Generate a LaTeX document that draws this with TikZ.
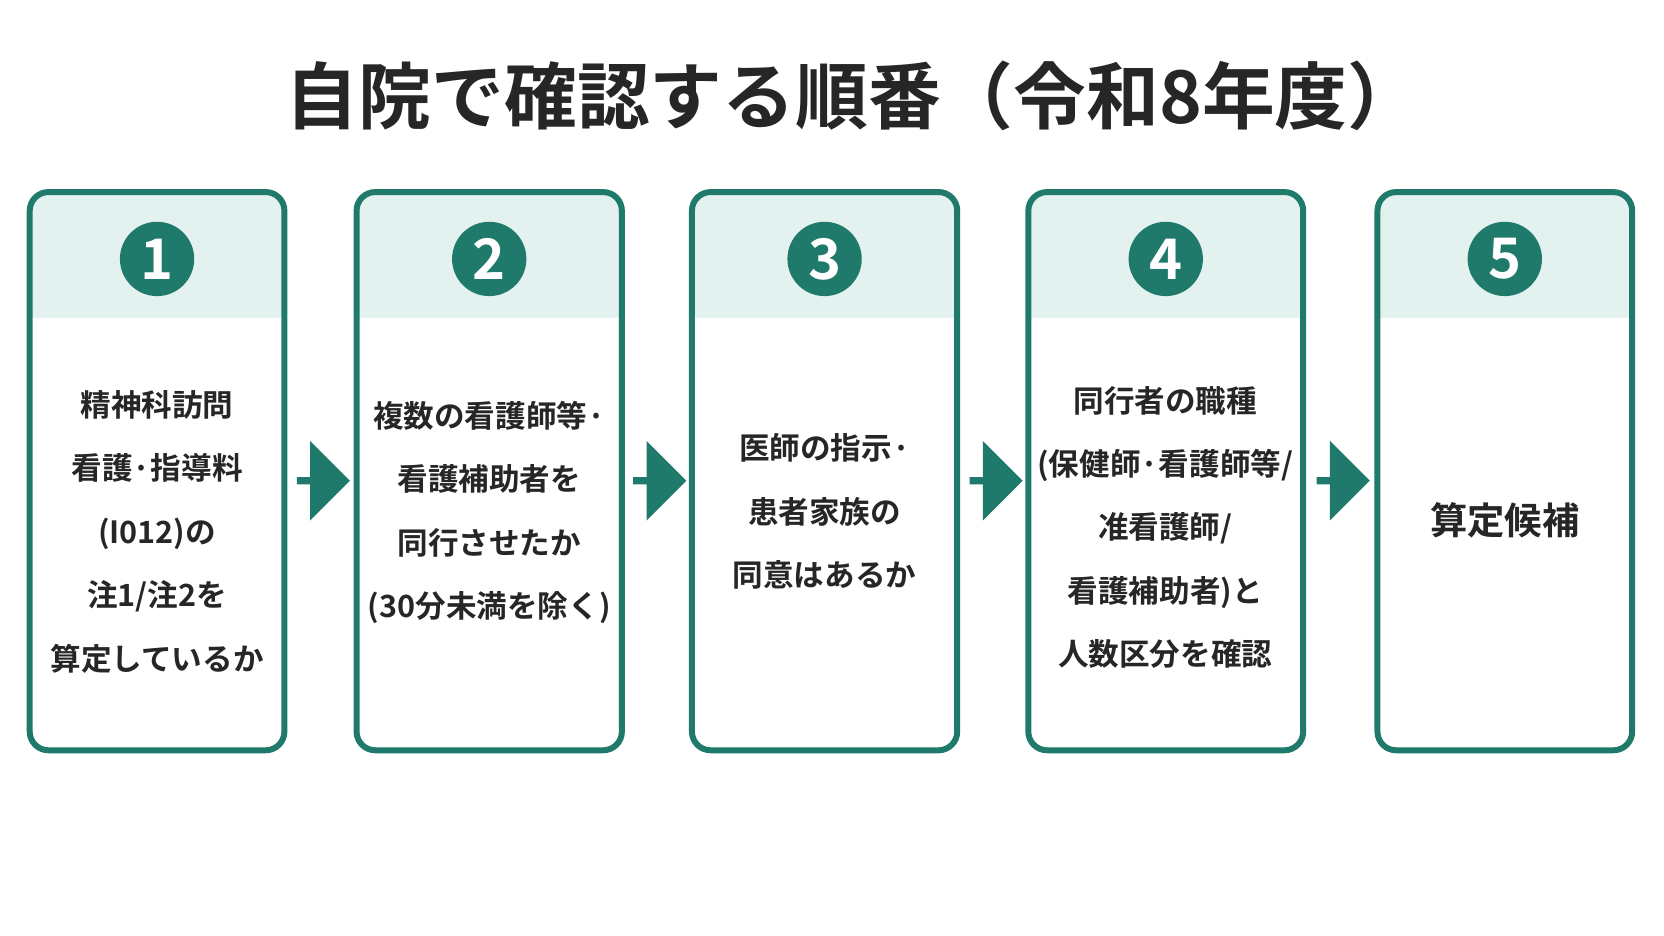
\documentclass[tikz,border=0pt]{standalone}
\usepackage{fontspec}
\setmainfont{Noto Sans CJK JP}[BoldFont={* Bold}]
\usetikzlibrary{shapes.arrows}
\definecolor{teal1}{HTML}{1F7A6C}
\definecolor{band}{HTML}{E3F1EF}
\tikzset{
 box/.style={draw=teal1,line width=1.6pt,rounded corners=5pt},
 num/.style={circle,fill=teal1,text=white,minimum size=0.7cm,font=\fontsize{15}{15}\selectfont\bfseries,inner sep=0pt},
 txt/.style={align=center,font=\fontsize{8.2}{17}\selectfont\bfseries,text=black!85},
 arr/.style={single arrow,fill=teal1,minimum height=0.5cm,minimum width=0.75cm,single arrow head extend=0.07cm,inner sep=0pt}
}
\begin{document}
\begin{tikzpicture}[x=0.01cm,y=-0.01cm]
\fill[white] (0,0) rectangle (1568,882);
\node[font=\fontsize{19.5}{19.5}\selectfont\bfseries,text=black!85] (title) at (804,90) {自院で確認する順番（令和8年度）};
\foreach \i/\a/\b in {1/28/268,2/336/586,3/652/902,4/969/1228,5/1298/1538}{
  \begin{scope}
  \clip[rounded corners=5pt] (\a,181) rectangle (\b,707);
  \fill[band] (\a,181) rectangle (\b,300);
  \end{scope}
  \draw[box] (\a,181) rectangle (\b,707);
  \node[num] (n\i) at ({(\a+\b)/2},244) {\i};
}
\node[txt] (t1) at (148,501) {精神科訪問\\看護·指導料\\(I012)の\\注1/注2を\\算定しているか};
\node[txt] (t2) at (461,483) {複数の看護師等·\\看護補助者を\\同行させたか\\(30分未満を除く)};
\node[txt] (t3) at (777,482) {医師の指示·\\患者家族の\\同意はあるか};
\node[txt] (t4) at (1098,497) {同行者の職種\\(保健師·看護師等/\\准看護師/\\看護補助者)と\\人数区分を確認};
\node[txt,font=\fontsize{10}{17}\selectfont\bfseries] (t5) at (1418,490) {算定候補};
\foreach \a/\x in {1/303,2/620,3/937,4/1264}{
  \node[arr] (a\a) at (\x,453) {};
}
\pgfresetboundingbox
\path[use as bounding box] (0,0) rectangle (1568,882);
\end{tikzpicture}
\end{document}
